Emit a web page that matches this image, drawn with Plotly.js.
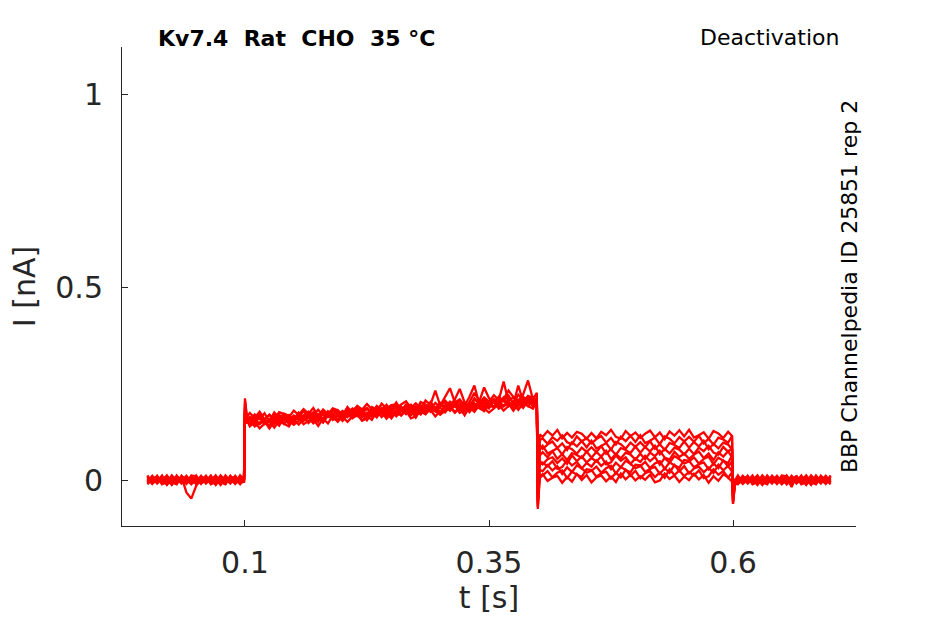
<!DOCTYPE html>
<html>
<head>
<meta charset="utf-8">
<script src="https://cdn.plot.ly/plotly-3.0.1.min.js"></script>
<style>
  html, body { margin: 0; padding: 0; background: #fff; }
  #chart { width: 945px; height: 624px; }
</style>
</head>
<body>
<div id="chart"></div>
<script>
// Deactivation protocol sweeps, current in nA sampled along tSec (s)

const tSec = [
    0.000, 0.005, 0.010, 0.015, 0.020, 0.025, 0.030, 0.035, 0.040, 0.045,
    0.050, 0.055, 0.060, 0.065, 0.070, 0.075, 0.080, 0.085, 0.090, 0.095, 0.099,
    0.100, 0.102,
    0.105, 0.110, 0.115, 0.120, 0.125, 0.130, 0.135, 0.140, 0.145, 0.150,
    0.155, 0.160, 0.165, 0.170, 0.175, 0.180, 0.185, 0.190, 0.195, 0.200,
    0.205, 0.210, 0.215, 0.220, 0.225, 0.230, 0.235, 0.240, 0.245, 0.250,
    0.255, 0.260, 0.265, 0.270, 0.275, 0.280, 0.285, 0.290, 0.295, 0.300,
    0.305, 0.310, 0.315, 0.320, 0.325, 0.330, 0.335, 0.340, 0.345, 0.350,
    0.355, 0.360, 0.365, 0.370, 0.375, 0.380, 0.385, 0.390, 0.395, 0.399,
    0.400, 0.402,
    0.405, 0.410, 0.415, 0.420, 0.425, 0.430, 0.435, 0.440, 0.445, 0.450,
    0.455, 0.460, 0.465, 0.470, 0.475, 0.480, 0.485, 0.490, 0.495, 0.500,
    0.505, 0.510, 0.515, 0.520, 0.525, 0.530, 0.535, 0.540, 0.545, 0.550,
    0.555, 0.560, 0.565, 0.570, 0.575, 0.580, 0.585, 0.590, 0.595, 0.599,
    0.600, 0.602,
    0.605, 0.610, 0.615, 0.620, 0.625, 0.630, 0.635, 0.640, 0.645, 0.650,
    0.655, 0.660, 0.665, 0.670, 0.675, 0.680, 0.685, 0.690, 0.695, 0.700
];

const sweep01 = [
    0.008, -0.005, 0.011, -0.009, 0.003, -0.012, 0.006, 0.001, -0.007, 0.010,
    -0.006, 0.009, -0.003, 0.012, -0.010, 0.004, -0.008, 0.007, 0.002, -0.011, 0.003,
    0.205, 0.165,
    0.174, 0.161, 0.177, 0.157, 0.169, 0.158, 0.176, 0.171, 0.163, 0.180,
    0.169, 0.184, 0.172, 0.187, 0.165, 0.183, 0.171, 0.186, 0.181, 0.168,
    0.189, 0.175, 0.192, 0.183, 0.197, 0.183, 0.178, 0.198, 0.185, 0.194,
    0.185, 0.196, 0.204, 0.187, 0.199, 0.186, 0.206, 0.195, 0.232, 0.193,
    0.215, 0.238, 0.201, 0.209, 0.192, 0.216, 0.245, 0.198, 0.214, 0.203,
    0.220, 0.207, 0.255, 0.203, 0.215, 0.204, 0.222, 0.258, 0.209, 0.226,
    -0.065, 0.118,
    0.112, 0.127, 0.115, 0.130, 0.108, 0.122, 0.110, 0.125, 0.120, 0.107,
    0.122, 0.108, 0.125, 0.116, 0.130, 0.112, 0.107, 0.127, 0.114, 0.123,
    0.109, 0.120, 0.128, 0.111, 0.123, 0.106, 0.126, 0.115, 0.129, 0.113,
    0.130, 0.110, 0.116, 0.124, 0.107, 0.127, 0.121, 0.109, 0.125, 0.114,
    -0.055, -0.008,
    0.004, -0.010, 0.007, -0.002, 0.012, -0.006, -0.011, 0.009, -0.004, 0.005,
    -0.009, 0.002, 0.010, -0.007, 0.005, -0.012, 0.008, -0.003, 0.011, -0.005
];

const sweep02 = [
    -0.006, 0.009, -0.003, 0.012, -0.010, 0.004, -0.008, 0.007, 0.002, -0.011,
    0.004, -0.010, 0.007, -0.002, 0.012, -0.006, -0.011, 0.009, -0.004, 0.005, -0.004,
    0.190, 0.158,
    0.155, 0.170, 0.158, 0.173, 0.151, 0.169, 0.157, 0.172, 0.167, 0.154,
    0.174, 0.160, 0.177, 0.168, 0.182, 0.168, 0.163, 0.183, 0.170, 0.179,
    0.171, 0.182, 0.190, 0.173, 0.185, 0.172, 0.192, 0.181, 0.195, 0.179,
    0.201, 0.181, 0.187, 0.195, 0.178, 0.202, 0.196, 0.184, 0.200, 0.189,
    0.206, 0.193, 0.209, 0.236, 0.201, 0.190, 0.208, 0.203, 0.240, 0.212,
    0.201, 0.216, 0.204, 0.219, 0.197, 0.245, 0.203, 0.218, 0.213, 0.200,
    -0.040, 0.104,
    0.108, 0.094, 0.111, 0.102, 0.116, 0.098, 0.093, 0.113, 0.100, 0.109,
    0.095, 0.106, 0.114, 0.097, 0.109, 0.092, 0.112, 0.101, 0.115, 0.099,
    0.116, 0.096, 0.102, 0.110, 0.093, 0.113, 0.107, 0.095, 0.111, 0.100,
    0.112, 0.099, 0.115, 0.095, 0.107, 0.092, 0.110, 0.105, 0.097, 0.114,
    -0.035, -0.004,
    -0.009, 0.002, 0.010, -0.007, 0.005, -0.012, 0.008, -0.003, 0.011, -0.005,
    0.012, -0.008, -0.002, 0.006, -0.011, 0.009, 0.003, -0.009, 0.007, -0.004
];

const sweep03 = [
    0.004, -0.010, 0.007, -0.002, 0.012, -0.006, -0.011, 0.009, -0.032, -0.048,
    -0.015, 0.002, 0.010, -0.007, 0.005, -0.012, 0.008, -0.003, 0.011, -0.005, 0.002,
    0.180, 0.162,
    0.161, 0.147, 0.164, 0.155, 0.169, 0.155, 0.150, 0.170, 0.157, 0.166,
    0.157, 0.168, 0.176, 0.159, 0.171, 0.158, 0.178, 0.167, 0.181, 0.165,
    0.188, 0.168, 0.174, 0.182, 0.165, 0.189, 0.183, 0.171, 0.187, 0.176,
    0.193, 0.180, 0.196, 0.176, 0.188, 0.177, 0.195, 0.190, 0.182, 0.199,
    0.188, 0.203, 0.191, 0.206, 0.184, 0.202, 0.226, 0.205, 0.200, 0.187,
    0.207, 0.193, 0.210, 0.232, 0.215, 0.201, 0.196, 0.216, 0.203, 0.212,
    -0.025, 0.090,
    0.081, 0.092, 0.100, 0.083, 0.095, 0.078, 0.098, 0.087, 0.101, 0.085,
    0.102, 0.082, 0.088, 0.096, 0.079, 0.099, 0.093, 0.081, 0.097, 0.086,
    0.098, 0.085, 0.101, 0.081, 0.093, 0.078, 0.096, 0.091, 0.083, 0.100,
    0.084, 0.099, 0.087, 0.102, 0.080, 0.094, 0.082, 0.097, 0.092, 0.079,
    -0.030, -0.002,
    0.012, -0.008, -0.002, 0.006, -0.011, 0.009, 0.003, -0.009, 0.007, -0.004,
    0.008, -0.018, 0.011, -0.009, 0.003, -0.012, 0.006, 0.001, -0.007, 0.010
];

const sweep04 = [
    -0.009, 0.002, 0.010, -0.007, 0.005, -0.012, 0.008, -0.003, 0.011, -0.005,
    0.012, -0.008, -0.002, 0.006, -0.011, 0.009, 0.003, -0.009, 0.007, -0.004, -0.003,
    0.175, 0.155,
    0.144, 0.155, 0.163, 0.146, 0.158, 0.145, 0.165, 0.154, 0.168, 0.152,
    0.174, 0.154, 0.160, 0.168, 0.151, 0.175, 0.169, 0.157, 0.173, 0.162,
    0.180, 0.167, 0.183, 0.163, 0.175, 0.164, 0.182, 0.177, 0.169, 0.186,
    0.175, 0.190, 0.178, 0.193, 0.171, 0.189, 0.177, 0.192, 0.187, 0.174,
    0.194, 0.180, 0.197, 0.188, 0.202, 0.188, 0.183, 0.203, 0.190, 0.199,
    0.190, 0.201, 0.209, 0.192, 0.204, 0.191, 0.211, 0.200, 0.214, 0.198,
    -0.010, 0.078,
    0.089, 0.069, 0.075, 0.083, 0.066, 0.086, 0.080, 0.068, 0.084, 0.073,
    0.085, 0.072, 0.088, 0.068, 0.080, 0.065, 0.083, 0.078, 0.070, 0.087,
    0.071, 0.086, 0.074, 0.089, 0.067, 0.081, 0.069, 0.084, 0.079, 0.066,
    0.081, 0.067, 0.084, 0.075, 0.089, 0.071, 0.066, 0.086, 0.073, 0.082,
    -0.020, 0.000,
    0.008, -0.005, 0.011, -0.009, 0.003, -0.012, 0.006, 0.001, -0.007, 0.010,
    -0.006, 0.009, -0.003, 0.012, -0.010, 0.004, -0.008, 0.007, 0.002, -0.011
];

const sweep05 = [
    0.012, -0.008, -0.002, 0.006, -0.011, 0.009, 0.003, -0.009, 0.007, -0.004,
    0.008, -0.005, 0.011, -0.009, 0.003, -0.012, 0.006, 0.001, -0.007, 0.010, 0.001,
    0.170, 0.160,
    0.162, 0.142, 0.148, 0.156, 0.139, 0.163, 0.157, 0.145, 0.161, 0.150,
    0.167, 0.154, 0.170, 0.150, 0.162, 0.151, 0.169, 0.164, 0.156, 0.173,
    0.163, 0.178, 0.166, 0.181, 0.159, 0.177, 0.165, 0.180, 0.175, 0.162,
    0.182, 0.168, 0.185, 0.176, 0.190, 0.176, 0.171, 0.191, 0.178, 0.187,
    0.178, 0.189, 0.197, 0.180, 0.192, 0.179, 0.199, 0.188, 0.202, 0.186,
    0.208, 0.188, 0.194, 0.202, 0.185, 0.209, 0.203, 0.191, 0.207, 0.196,
    -0.020, 0.064,
    0.072, 0.059, 0.075, 0.055, 0.067, 0.052, 0.070, 0.065, 0.057, 0.074,
    0.058, 0.073, 0.061, 0.076, 0.054, 0.068, 0.056, 0.071, 0.066, 0.053,
    0.068, 0.054, 0.071, 0.062, 0.076, 0.058, 0.053, 0.073, 0.060, 0.069,
    0.055, 0.066, 0.074, 0.057, 0.069, 0.052, 0.072, 0.061, 0.075, 0.059,
    -0.025, -0.003,
    -0.006, 0.009, -0.003, 0.012, -0.010, 0.004, -0.008, 0.007, 0.002, -0.011,
    0.004, -0.010, 0.007, -0.002, 0.012, -0.006, -0.011, 0.009, -0.004, 0.005
];

const sweep06 = [
    0.010, -0.007, 0.001, 0.006, -0.012, 0.003, -0.009, 0.011, -0.005, 0.008,
    -0.011, 0.002, 0.007, -0.008, 0.004, -0.010, 0.012, -0.003, 0.009, -0.006, -0.005,
    0.160, 0.150,
    0.156, 0.139, 0.147, 0.152, 0.134, 0.153, 0.141, 0.161, 0.145, 0.158,
    0.144, 0.157, 0.162, 0.147, 0.159, 0.149, 0.171, 0.156, 0.168, 0.153,
    0.170, 0.161, 0.174, 0.154, 0.159, 0.181, 0.167, 0.176, 0.159, 0.173,
    0.169, 0.185, 0.171, 0.182, 0.162, 0.183, 0.171, 0.188, 0.180, 0.169,
    0.179, 0.190, 0.174, 0.186, 0.192, 0.176, 0.193, 0.185, 0.179, 0.199,
    0.202, 0.185, 0.193, 0.198, 0.180, 0.199, 0.187, 0.207, 0.191, 0.204,
    -0.030, 0.050,
    0.041, 0.054, 0.059, 0.044, 0.056, 0.042, 0.064, 0.049, 0.061, 0.046,
    0.057, 0.048, 0.061, 0.041, 0.046, 0.064, 0.050, 0.059, 0.042, 0.056,
    0.047, 0.063, 0.049, 0.060, 0.040, 0.057, 0.045, 0.062, 0.054, 0.043,
    0.048, 0.059, 0.043, 0.055, 0.061, 0.041, 0.058, 0.050, 0.044, 0.064,
    -0.015, 0.001,
    0.005, -0.004, 0.009, -0.011, -0.006, 0.012, -0.002, 0.007, -0.010, 0.004,
    -0.005, 0.011, -0.003, 0.008, -0.012, 0.005, -0.007, 0.010, 0.002, -0.009
];

const sweep07 = [
    -0.011, 0.002, 0.007, -0.008, 0.004, -0.010, 0.012, -0.003, 0.009, -0.006,
    0.005, -0.004, 0.009, -0.011, -0.006, 0.012, -0.002, 0.007, -0.010, 0.004, 0.004,
    0.172, 0.154,
    0.143, 0.156, 0.161, 0.146, 0.158, 0.148, 0.170, 0.155, 0.167, 0.152,
    0.168, 0.159, 0.172, 0.152, 0.157, 0.179, 0.165, 0.174, 0.157, 0.171,
    0.168, 0.184, 0.170, 0.181, 0.161, 0.182, 0.170, 0.187, 0.179, 0.168,
    0.178, 0.189, 0.173, 0.185, 0.191, 0.175, 0.192, 0.184, 0.178, 0.198,
    0.201, 0.184, 0.192, 0.197, 0.179, 0.198, 0.186, 0.206, 0.190, 0.203,
    0.189, 0.202, 0.207, 0.192, 0.204, 0.194, 0.216, 0.201, 0.213, 0.198,
    -0.050, 0.040,
    0.045, 0.036, 0.049, 0.029, 0.034, 0.052, 0.038, 0.047, 0.030, 0.044,
    0.035, 0.051, 0.037, 0.048, 0.028, 0.045, 0.033, 0.050, 0.042, 0.031,
    0.036, 0.047, 0.031, 0.043, 0.049, 0.029, 0.046, 0.038, 0.032, 0.052,
    0.050, 0.033, 0.041, 0.046, 0.028, 0.043, 0.031, 0.051, 0.035, 0.048,
    -0.040, -0.006,
    -0.005, 0.011, -0.003, 0.008, -0.012, 0.005, -0.007, 0.010, 0.002, -0.009,
    -0.004, 0.007, -0.009, 0.003, 0.009, -0.011, 0.006, -0.002, -0.008, 0.012
];

const sweep08 = [
    0.005, -0.004, 0.009, -0.011, -0.006, 0.012, -0.002, 0.007, -0.010, 0.004,
    -0.005, 0.011, -0.003, 0.008, -0.012, 0.005, -0.007, 0.010, 0.002, -0.009, -0.002,
    0.195, 0.158,
    0.164, 0.155, 0.168, 0.148, 0.153, 0.175, 0.161, 0.170, 0.153, 0.167,
    0.163, 0.179, 0.165, 0.176, 0.156, 0.177, 0.165, 0.182, 0.174, 0.163,
    0.174, 0.185, 0.169, 0.181, 0.187, 0.171, 0.188, 0.180, 0.174, 0.194,
    0.197, 0.180, 0.188, 0.193, 0.175, 0.194, 0.182, 0.202, 0.186, 0.199,
    0.185, 0.198, 0.203, 0.188, 0.200, 0.190, 0.212, 0.197, 0.209, 0.194,
    0.210, 0.201, 0.214, 0.194, 0.199, 0.221, 0.207, 0.216, 0.199, 0.213,
    -0.060, 0.026,
    0.023, 0.039, 0.025, 0.036, 0.016, 0.033, 0.021, 0.038, 0.030, 0.019,
    0.024, 0.035, 0.019, 0.031, 0.037, 0.017, 0.034, 0.026, 0.020, 0.040,
    0.038, 0.021, 0.029, 0.034, 0.016, 0.031, 0.019, 0.039, 0.023, 0.036,
    0.017, 0.030, 0.035, 0.020, 0.032, 0.018, 0.040, 0.025, 0.037, 0.022,
    -0.050, -0.007,
    -0.004, 0.007, -0.009, 0.003, 0.009, -0.011, 0.006, -0.002, -0.008, 0.012,
    0.010, -0.007, 0.001, 0.006, -0.012, 0.003, -0.009, 0.011, -0.005, 0.008
];

const sweep09 = [
    -0.005, 0.011, -0.003, 0.008, -0.012, 0.005, -0.007, 0.010, 0.002, -0.009,
    -0.004, 0.007, -0.009, 0.003, 0.009, -0.011, 0.006, -0.002, -0.008, 0.012, 0.002,
    0.185, 0.152,
    0.143, 0.159, 0.145, 0.156, 0.136, 0.157, 0.145, 0.162, 0.154, 0.143,
    0.153, 0.164, 0.148, 0.160, 0.166, 0.150, 0.167, 0.159, 0.153, 0.173,
    0.177, 0.160, 0.168, 0.173, 0.155, 0.174, 0.162, 0.182, 0.166, 0.179,
    0.165, 0.178, 0.183, 0.168, 0.180, 0.170, 0.192, 0.177, 0.189, 0.174,
    0.190, 0.181, 0.194, 0.174, 0.179, 0.201, 0.187, 0.196, 0.179, 0.193,
    0.189, 0.205, 0.191, 0.202, 0.182, 0.203, 0.191, 0.208, 0.200, 0.189,
    -0.070, 0.014,
    0.012, 0.023, 0.007, 0.019, 0.025, 0.005, 0.022, 0.014, 0.008, 0.028,
    0.026, 0.009, 0.017, 0.022, 0.004, 0.019, 0.007, 0.027, 0.011, 0.024,
    0.005, 0.018, 0.023, 0.008, 0.020, 0.006, 0.028, 0.013, 0.025, 0.010,
    0.021, 0.012, 0.025, 0.005, 0.010, 0.028, 0.014, 0.023, 0.006, 0.020,
    -0.060, -0.009,
    0.010, -0.007, 0.001, 0.006, -0.012, 0.003, -0.009, 0.011, -0.005, 0.008,
    -0.011, 0.002, 0.007, -0.008, 0.004, -0.010, 0.012, -0.003, 0.009, -0.006
];

const sweep10 = [
    -0.004, 0.007, -0.009, 0.003, 0.009, -0.011, 0.006, -0.002, -0.008, 0.012,
    0.010, -0.007, 0.001, 0.006, -0.012, 0.003, -0.009, 0.011, -0.005, 0.008, -0.001,
    0.212, 0.156,
    0.139, 0.150, 0.134, 0.146, 0.152, 0.136, 0.153, 0.145, 0.139, 0.159,
    0.162, 0.145, 0.153, 0.158, 0.140, 0.159, 0.147, 0.167, 0.151, 0.164,
    0.151, 0.164, 0.169, 0.154, 0.166, 0.156, 0.178, 0.163, 0.175, 0.160,
    0.176, 0.167, 0.180, 0.160, 0.165, 0.187, 0.173, 0.182, 0.165, 0.179,
    0.175, 0.191, 0.177, 0.188, 0.168, 0.189, 0.177, 0.194, 0.186, 0.175,
    0.185, 0.196, 0.180, 0.192, 0.198, 0.182, 0.199, 0.191, 0.185, 0.205,
    -0.075, 0.004,
    0.015, -0.002, 0.006, 0.011, -0.007, 0.008, -0.004, 0.016, 0.000, 0.013,
    -0.006, 0.007, 0.012, -0.003, 0.009, -0.005, 0.017, 0.002, 0.014, -0.001,
    0.010, 0.001, 0.014, -0.006, -0.001, 0.017, 0.003, 0.012, -0.005, 0.009,
    0.000, 0.016, 0.002, 0.013, -0.007, 0.010, -0.002, 0.015, 0.007, -0.004,
    -0.062, -0.010,
    -0.011, 0.002, 0.007, -0.008, 0.004, -0.010, 0.012, -0.003, 0.009, -0.006,
    0.005, -0.004, 0.009, -0.011, -0.006, 0.012, -0.002, 0.007, -0.010, 0.004
];

const sweeps = [sweep01, sweep02, sweep03, sweep04, sweep05,
                sweep06, sweep07, sweep08, sweep09, sweep10];

const xTicks = [0.1, 0.35, 0.6];
const xTickText = ['0.1', '0.35', '0.6'];
const yTicks = [0, 0.5, 1];
const yTickText = ['0', '0.5', '1'];

const AXIS_COLOR = '#262626';
const FONT = 'DejaVu Sans, Liberation Sans, sans-serif';

const traces = sweeps.map(function (ys) {
    return {
        type: 'scatter',
        mode: 'lines',
        x: tSec,
        y: ys,
        line: { color: '#ff0000', width: 2.3 },
        hoverinfo: 'skip',
        showlegend: false
    };
});

const axisBase = {
    showline: true,
    linecolor: AXIS_COLOR,
    linewidth: 1,
    showgrid: false,
    zeroline: false,
    ticks: 'inside',
    ticklen: 6,
    tickcolor: AXIS_COLOR,
    tickfont: { family: FONT, size: 30, color: AXIS_COLOR },
    tickmode: 'array'
};

const layout = {
    width: 945,
    height: 624,
    paper_bgcolor: '#ffffff',
    plot_bgcolor: '#ffffff',
    font: { family: FONT, color: '#000000' },
    margin: { l: 122, r: 89, t: 47, b: 98 },
    showlegend: false,
    xaxis: Object.assign({}, axisBase, {
        range: [-0.026, 0.726],
        tickvals: xTicks,
        ticktext: xTickText,
        ticklabelstandoff: 10,
        title: { text: 't [s]', font: { family: FONT, size: 30, color: AXIS_COLOR }, standoff: 4 }
    }),
    yaxis: Object.assign({}, axisBase, {
        range: [-0.119, 1.122],
        tickvals: yTicks,
        ticktext: yTickText,
        ticklabelstandoff: 12,
        title: { text: 'I [nA]', font: { family: FONT, size: 30, color: AXIS_COLOR }, standoff: 10 }
    }),
    annotations: [
        {
            xref: 'paper', yref: 'paper', x: 0.046, y: 1.017,
            xanchor: 'left', yanchor: 'middle', showarrow: false,
            text: '<b>Kv7.4\u00a0\u00a0Rat\u00a0\u00a0CHO\u00a0\u00a035 \u00b0C</b>',
            font: { family: FONT, size: 22, color: '#000000' }
        },
        {
            xref: 'paper', yref: 'paper', x: 0.98, y: 1.019,
            xanchor: 'right', yanchor: 'middle', showarrow: false,
            text: 'Deactivation',
            font: { family: FONT, size: 22, color: '#000000' }
        },
        {
            xref: 'paper', yref: 'paper', x: 0.992, y: 0.499,
            xanchor: 'center', yanchor: 'middle', showarrow: false,
            textangle: -90,
            text: 'BBP Channelpedia ID 25851 rep 2',
            font: { family: FONT, size: 22, color: '#000000' }
        }
    ]
};

Plotly.newPlot('chart', traces, layout, { displayModeBar: false, staticPlot: true });
</script>
</body>
</html>
